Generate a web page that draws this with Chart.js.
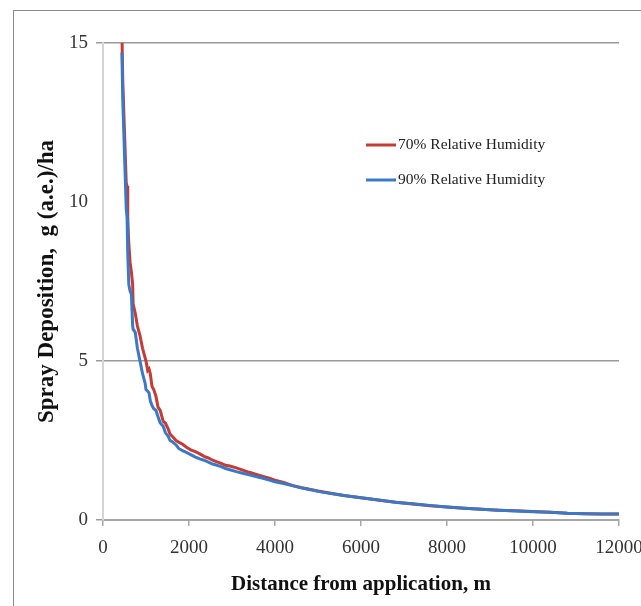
<!DOCTYPE html>
<html>
<head>
<meta charset="utf-8">
<script src="https://cdn.jsdelivr.net/npm/chart.js@4.4.1/dist/chart.umd.min.js"></script>
<style>
  body { margin: 0; overflow: hidden; background: #fff; }
  #frame { position: absolute; left: 13px; top: 10px; width: 700px; height: 700px; border: 1px solid #8a8a8a; }
  #wrap { position: absolute; left: 0; top: 0; width: 641px; height: 606px; }
</style>
</head>
<body>
<div id="frame"></div>
<div id="wrap"><canvas id="sprayChart"></canvas></div>
<script>
// distances (m) shared by both series
const distance = [440, 460, 500, 540, 560, 575, 600, 630, 660, 690, 700, 750, 800, 860, 920, 980, 1000,
  1040, 1070, 1100, 1140, 1180, 1230, 1280, 1330, 1400, 1450, 1520, 1560, 1620, 1700, 1760, 1850, 1950,
  2050, 2150, 2250, 2350, 2450, 2550, 2650, 2750, 2850, 2950, 3100, 3250, 3400, 3550, 3700, 3850, 4000,
  4200, 4400, 4600, 4800, 5000, 5300, 5600, 6000, 6400, 6800, 7200, 7600, 8000, 8400, 8800, 9200, 9600,
  10000, 10400, 10800, 11200, 11600, 12000];

// deposition g (a.e.)/ha
const rh70 = [15.3, 13.8, 12.2, 10.6, 10.5, 9.4, 8.7, 8.1, 7.8, 7.4, 6.8, 6.5, 6.1, 5.8, 5.4, 5.1, 5.0,
  4.7, 4.75, 4.6, 4.2, 4.1, 3.9, 3.55, 3.45, 3.1, 3.05, 2.85, 2.7, 2.62, 2.5, 2.45, 2.38, 2.28,
  2.2, 2.15, 2.08, 2.0, 1.95, 1.88, 1.83, 1.78, 1.72, 1.7, 1.64, 1.57, 1.5, 1.44, 1.38, 1.32, 1.25,
  1.18, 1.09, 1.02, 0.97, 0.91, 0.84, 0.77, 0.7, 0.63, 0.56, 0.5, 0.45, 0.41, 0.37, 0.34, 0.31, 0.29,
  0.27, 0.24, 0.21, 0.2, 0.19, 0.19];

const rh90 = [14.7, 13.2, 11.5, 9.8, 9.5, 8.4, 7.4, 7.2, 7.1, 6.1, 6.0, 5.9, 5.4, 5.0, 4.6, 4.3, 4.1,
  4.05, 4.0, 3.75, 3.6, 3.5, 3.45, 3.25, 3.05, 2.95, 2.75, 2.62, 2.5, 2.45, 2.36, 2.25, 2.18, 2.12,
  2.05, 1.98, 1.92, 1.88, 1.82, 1.76, 1.72, 1.68, 1.62, 1.58, 1.52, 1.47, 1.42, 1.37, 1.32, 1.26, 1.2,
  1.15, 1.08, 1.01, 0.96, 0.9, 0.83, 0.77, 0.7, 0.63, 0.56, 0.51, 0.46, 0.41, 0.37, 0.34, 0.31, 0.28,
  0.26, 0.24, 0.21, 0.2, 0.19, 0.19];

const seriesLabels = ['70% Relative Humidity', '90% Relative Humidity'];
const seriesColors = ['#c43c35', '#3b78c6'];

const toPoints = (vals) => distance.map((d, i) => ({x: d, y: vals[i]}));

// legend drawn inside plot like the original
const insideLegend = {
  id: 'insideLegend',
  afterDraw(chart) {
    const ctx = chart.ctx;
    ctx.save();
    ctx.font = '15.5px "Liberation Serif"';
    ctx.textBaseline = 'middle';
    ctx.fillStyle = '#222';
    seriesLabels.forEach((lbl, i) => {
      let y = 145 + i * 35;
      ctx.strokeStyle = seriesColors[i];
      ctx.lineWidth = 3;
      ctx.beginPath();
      ctx.moveTo(366, y);
      ctx.lineTo(396, y);
      ctx.stroke();
      ctx.fillText(lbl, 398, y);
    });
    ctx.restore();
  }
};

const ctx = document.getElementById('sprayChart');

new Chart(ctx, {
  type: 'line',
  data: {
    datasets: [
      {label: seriesLabels[0], data: toPoints(rh70), borderColor: seriesColors[0], borderWidth: 3, pointRadius: 0, tension: 0, order: 1},
      {label: seriesLabels[1], data: toPoints(rh90), borderColor: seriesColors[1], borderWidth: 3, pointRadius: 0, tension: 0, order: 0}
    ]
  },
  options: {
    responsive: true,
    maintainAspectRatio: false,
    animation: false,
    layout: {padding: {top: 43, right: 22, bottom: 0, left: 0}},
    plugins: {legend: {display: false}, tooltip: {enabled: false}},
    scales: {
      x: {
        type: 'linear',
        min: 0,
        max: 12000,
        afterFit: (s) => { s.height = 86; s.paddingLeft = 0; s.paddingRight = 0; },
        ticks: {stepSize: 2000, color: '#333', padding: 11, maxRotation: 0,
          font: {family: 'Liberation Serif', size: 19},
          callback: (v) => String(v)},
        grid: {drawOnChartArea: false, drawTicks: true, tickLength: 6, color: '#a6a6a6', lineWidth: 1.5},
        border: {color: '#a6a6a6', width: 2},
        title: {display: true, text: 'Distance from application, m', color: '#111',
          font: {family: 'Liberation Serif', size: 21, weight: 'bold'}, padding: {top: 0, bottom: 9}}
      },
      y: {
        min: 0,
        max: 15,
        afterFit: (s) => { s.width = 103; },
        ticks: {stepSize: 5, color: '#333', padding: 8, font: {family: 'Liberation Serif', size: 19}},
        grid: {
          color: (c) => (c.tick && c.tick.value === 10) ? 'rgba(0,0,0,0)' : '#9a9a9a',
          lineWidth: 1.5,
          tickLength: 7
        },
        border: {color: '#d4d4d4', width: 2},
        title: {display: true, text: 'Spray Deposition,  g (a.e.)/ha', color: '#111',
          font: {family: 'Liberation Serif', size: 23, weight: 'bold'}, padding: {top: 33, bottom: 0}}
      }
    }
  },
  plugins: [insideLegend]
});
</script>
</body>
</html>
